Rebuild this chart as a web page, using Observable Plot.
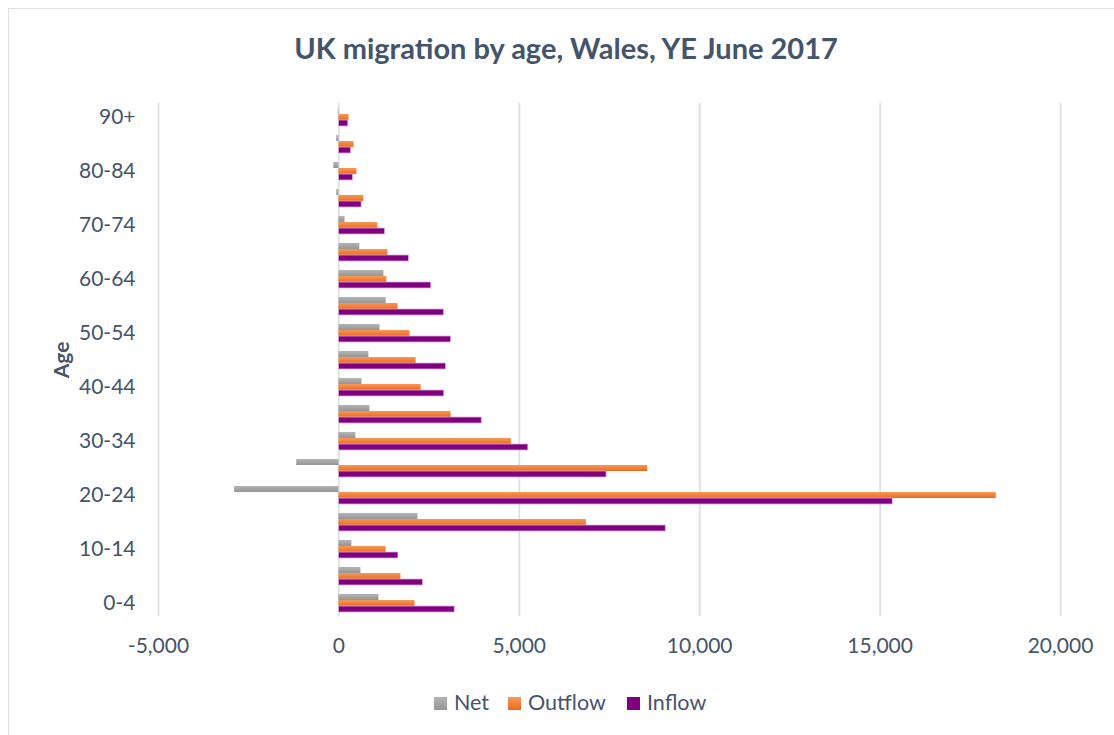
<!DOCTYPE html>
<html>
<head>
<meta charset="utf-8">
<script src="https://cdn.jsdelivr.net/npm/d3@7"></script>
<script src="https://cdn.jsdelivr.net/npm/@observablehq/plot@0.6"></script>
<style>
  html, body { margin: 0; padding: 0; background: #fff; }
  #wrap { position: relative; width: 1114px; height: 735px; overflow: hidden; font-family: Lato, "Open Sans", sans-serif; color: #44546a; }
  #border { position: absolute; left: 8px; top: 8px; width: 1200px; height: 800px; border: 1.5px solid #dde1e6; box-sizing: border-box; }
  #chart { position: absolute; left: 0; top: 0; }
  #title { position: absolute; left: 566px; top: 30px; transform: translateX(-50%); white-space: nowrap; font-weight: 700; font-size: 29px; line-height: 36px; }
  #ylab { position: absolute; left: 60px; top: 360px; transform: translate(-50%, -50%) rotate(-90deg); font-weight: 700; font-size: 21px; white-space: nowrap; }
  .lg { position: absolute; top: 689px; font-size: 21.5px; line-height: 26px; white-space: nowrap; }
  .sw { position: absolute; width: 13px; height: 13px; top: 697px; }
</style>
</head>
<body>
<div id="wrap">
  <div id="border"></div>
  <div id="chart"></div>
  <div id="title">UK migration by age, Wales, YE June 2017</div>
  <div id="ylab">Age</div>
  <div class="sw" style="left:434px;background:linear-gradient(#b4b4b4,#959595)"></div>
  <div class="lg" style="left:454px">Net</div>
  <div class="sw" style="left:508px;background:linear-gradient(#f7985a,#ec6c1a)"></div>
  <div class="lg" style="left:528px">Outflow</div>
  <div class="sw" style="left:627px;background:#800080"></div>
  <div class="lg" style="left:647px">Inflow</div>
</div>
<script>
const ages = ["0-4","5-9","10-14","15-19","20-24","25-29","30-34","35-39","40-44","45-49","50-54","55-59","60-64","65-69","70-74","75-79","80-84","85-89","90+"];
const inflow  = [3210, 2330, 1650, 9060, 15350, 7420, 5250, 3960, 2920, 2970, 3110, 2910, 2560, 1940, 1280, 630, 390, 340, 260];
const outflow = [2110, 1720, 1310, 6860, 18220, 8560, 4780, 3110, 2280, 2140, 1970, 1640, 1330, 1360, 1080, 690, 500, 420, 280];
const net     = [1110, 610, 360, 2190, -2890, -1170, 470, 860, 640, 830, 1140, 1310, 1250, 580, 170, -60, -140, -60, -20];
const seriesNames = ["Net", "Outflow", "Inflow"];
const xTicks = [-5000, 0, 5000, 10000, 15000, 20000];

const rows = [];
ages.forEach((a, i) => {
  rows.push({age: a, series: "Net", value: net[i]});
  rows.push({age: a, series: "Outflow", value: outflow[i]});
  rows.push({age: a, series: "Inflow", value: inflow[i]});
});

const plot = Plot.plot({
  width: 1114,
  height: 735,
  marginTop: 100,
  marginBottom: 117,
  marginLeft: 158,
  marginRight: 54,
  style: {fontFamily: "Lato, 'Open Sans', sans-serif", fontSize: "21px", color: "#44546a", background: "transparent"},
  x: {domain: [-5000, 20000], ticks: xTicks},
  y: {domain: seriesNames, paddingInner: 0, paddingOuter: 0.45, axis: null},
  fy: {domain: ages.slice().reverse(), padding: 0},
  marks: [
    Plot.gridX(xTicks, {stroke: "#dde1e6", strokeOpacity: 1, strokeWidth: 1.8}),
    Plot.barX(rows.filter(d => d.series === "Net"), {x: "value", y: "series", fy: "age", fill: "url(#gGrey)"}),
    Plot.barX(rows.filter(d => d.series === "Outflow"), {x: "value", y: "series", fy: "age", fill: "url(#gOrange)"}),
    Plot.barX(rows.filter(d => d.series === "Inflow"), {x: "value", y: "series", fy: "age", fill: "#800080", stroke: "#d6b0d6", strokeWidth: 0.8}),
    Plot.axisX(xTicks, {tickSize: 0, tickPadding: 22, tickFormat: d => d.toLocaleString("en-US"), label: null, fontSize: 21}),
    Plot.axisFy({anchor: "left", tickSize: 0, tickPadding: 23, tickFormat: d => (ages.indexOf(d) % 2 === 0 ? d : ""), label: null, fontSize: 21})
  ]
});

const svg = d3.select(plot);
const defs = svg.insert("defs", ":first-child");
function grad(id, c1, c2) {
  const g = defs.append("linearGradient").attr("id", id).attr("x1", 0).attr("y1", 0).attr("x2", 0).attr("y2", 1);
  g.append("stop").attr("offset", "0%").attr("stop-color", c1);
  g.append("stop").attr("offset", "100%").attr("stop-color", c2);
}
grad("gGrey", "#b4b4b4", "#959595");
grad("gOrange", "#f7985a", "#ec6c1a");

document.getElementById("chart").appendChild(plot);
</script>
</body>
</html>
